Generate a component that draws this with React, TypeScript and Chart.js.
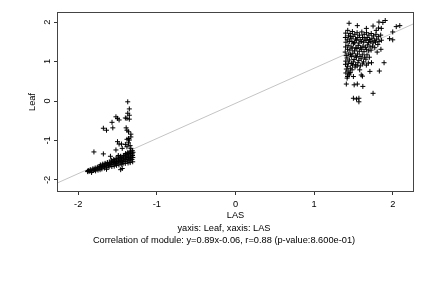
import { useEffect, useRef } from "react";
import { Chart, registerables } from "chart.js";

Chart.register(...registerables);

// ---- data ----
const xTicks = [-2, -1, 0, 1, 2];
const yTicks = [-2, -1, 0, 1, 2];
const xRange = [-2.257, 2.258];
const yRange = [-2.28, 2.23];
const slope = 0.89;
const intercept = -0.06;
const xLabel = "LAS";
const yLabel = "Leaf";
const captionLines = [
  "yaxis: Leaf, xaxis: LAS",
  "Correlation of module: y=0.89x-0.06, r=0.88 (p-value:8.600e-01)",
];

// lower-left cluster [LAS, Leaf]
const lowCluster: [number, number][] = [
  [-1.37, -0.02], [-1.35, -0.2], [-1.37, -0.31], [-1.35, -0.36], [-1.4, -0.43], [-1.35, -0.46],
  [-1.38, -0.44], [-1.52, -0.4], [-1.5, -0.44], [-1.48, -0.48], [-1.57, -0.54], [-1.56, -0.68],
  [-1.68, -0.69], [-1.64, -0.74], [-1.39, -0.68], [-1.38, -0.74], [-1.36, -0.78], [-1.33, -0.84],
  [-1.36, -0.95], [-1.35, -0.99], [-1.38, -0.97], [-1.33, -0.91], [-1.5, -1.03], [-1.48, -1.09],
  [-1.45, -1.09], [-1.4, -1.1], [-1.36, -1.06], [-1.34, -1.13], [-1.52, -1.24], [-1.8, -1.29],
  [-1.68, -1.34], [-1.59, -1.4], [-1.49, -1.38], [-1.44, -1.2], [-1.38, -1.16], [-1.33, -1.2],
  [-1.46, -1.74], [-1.44, -1.71], [-1.64, -1.73], [-1.83, -1.81], [-1.88, -1.78],
  [-1.877, -1.79], [-1.872, -1.76], [-1.853, -1.78], [-1.846, -1.74],
  [-1.826, -1.77], [-1.814, -1.72], [-1.808, -1.75],
  [-1.793, -1.74], [-1.784, -1.7], [-1.779, -1.77],
  [-1.764, -1.72], [-1.753, -1.68], [-1.748, -1.75],
  [-1.736, -1.7], [-1.727, -1.66], [-1.718, -1.62], [-1.722, -1.74],
  [-1.705, -1.68], [-1.694, -1.64], [-1.688, -1.6], [-1.699, -1.72],
  [-1.674, -1.66], [-1.663, -1.62], [-1.658, -1.58], [-1.667, -1.7],
  [-1.644, -1.64], [-1.633, -1.6], [-1.628, -1.56], [-1.636, -1.69],
  [-1.615, -1.63], [-1.604, -1.59], [-1.598, -1.55], [-1.607, -1.67],
  [-1.585, -1.61], [-1.574, -1.57], [-1.569, -1.53], [-1.578, -1.5], [-1.572, -1.66],
  [-1.556, -1.6], [-1.545, -1.56], [-1.539, -1.52], [-1.548, -1.48], [-1.542, -1.65],
  [-1.525, -1.58], [-1.514, -1.54], [-1.509, -1.5], [-1.518, -1.46], [-1.512, -1.63],
  [-1.496, -1.57], [-1.485, -1.53], [-1.479, -1.49], [-1.488, -1.45], [-1.482, -1.62], [-1.491, -1.42],
  [-1.465, -1.55], [-1.454, -1.51], [-1.449, -1.47], [-1.458, -1.43], [-1.452, -1.6], [-1.461, -1.4],
  [-1.436, -1.54], [-1.425, -1.5], [-1.419, -1.46], [-1.428, -1.42], [-1.422, -1.38], [-1.431, -1.59],
  [-1.405, -1.53], [-1.394, -1.48], [-1.389, -1.44], [-1.398, -1.4], [-1.392, -1.36], [-1.401, -1.58], [-1.396, -1.33],
  [-1.376, -1.52], [-1.365, -1.47], [-1.359, -1.43], [-1.368, -1.39], [-1.362, -1.35], [-1.371, -1.31], [-1.366, -1.57],
  [-1.345, -1.5], [-1.334, -1.45], [-1.329, -1.41], [-1.338, -1.37], [-1.332, -1.33], [-1.341, -1.29], [-1.336, -1.27], [-1.339, -1.56],
  [-1.316, -1.48], [-1.305, -1.43], [-1.309, -1.38], [-1.312, -1.34], [-1.303, -1.3], [-1.311, -1.26], [-1.307, -1.54],
];

// upper-right cluster [LAS, Leaf]
const highCluster: [number, number][] = [
  [1.445, 1.97], [1.55, 1.91], [1.665, 1.84], [1.75, 1.9], [1.825, 2.0], [1.875, 1.99], [1.905, 2.04],
  [1.82, 1.85], [1.855, 1.84], [1.79, 1.79], [2.045, 1.885], [2.09, 1.91], [2.0, 1.75], [2.0, 1.55],
  [1.96, 1.58], [1.85, 1.31], [1.89, 0.97], [1.83, 0.76], [1.75, 0.195], [1.41, 0.43], [1.51, 0.41],
  [1.55, 0.43], [1.62, 0.37], [1.5, 0.07], [1.54, 0.05], [1.57, 0.07], [1.57, -0.02], [1.425, 0.62],
  [1.445, 0.66], [1.46, 0.72], [1.42, 0.58], [1.5, 0.62], [1.615, 0.63], [1.6, 0.66], [1.58, 0.79],
  [1.71, 0.75], [1.69, 0.96], [1.665, 0.91], [1.73, 0.97],
  [1.402, 1.72], [1.398, 1.61], [1.405, 1.49], [1.401, 1.37], [1.396, 1.24], [1.408, 1.15], [1.403, 1.01], [1.399, 0.93], [1.41, 0.81], [1.404, 0.71],
  [1.428, 1.79], [1.437, 1.65], [1.422, 1.55], [1.433, 1.41], [1.426, 1.31], [1.441, 1.19], [1.419, 1.09], [1.436, 0.96], [1.424, 0.88], [1.432, 0.76], [1.445, 0.69],
  [1.458, 1.71], [1.468, 1.59], [1.452, 1.51], [1.471, 1.37], [1.455, 1.29], [1.463, 1.17], [1.449, 1.04], [1.474, 0.95], [1.461, 0.83], [1.466, 1.63],
  [1.487, 1.76], [1.496, 1.64], [1.481, 1.51], [1.502, 1.45], [1.485, 1.34], [1.493, 1.21], [1.478, 1.13], [1.499, 0.99], [1.488, 0.91], [1.483, 0.79],
  [1.518, 1.69], [1.527, 1.57], [1.512, 1.48], [1.531, 1.35], [1.515, 1.27], [1.524, 1.14], [1.509, 1.05], [1.528, 0.92], [1.521, 0.86],
  [1.547, 1.73], [1.556, 1.61], [1.541, 1.54], [1.562, 1.41], [1.545, 1.33], [1.553, 1.19], [1.539, 1.11], [1.558, 0.97], [1.549, 0.89],
  [1.577, 1.67], [1.586, 1.55], [1.571, 1.47], [1.592, 1.35], [1.575, 1.26], [1.583, 1.13], [1.569, 1.03], [1.588, 0.89],
  [1.607, 1.75], [1.616, 1.61], [1.601, 1.51], [1.622, 1.39], [1.605, 1.31], [1.613, 1.17], [1.599, 1.07], [1.618, 0.94],
  [1.637, 1.69], [1.646, 1.57], [1.631, 1.49], [1.652, 1.36], [1.635, 1.25], [1.643, 1.11], [1.629, 0.99],
  [1.667, 1.73], [1.676, 1.61], [1.661, 1.53], [1.682, 1.42], [1.665, 1.31], [1.673, 1.17], [1.659, 1.06],
  [1.697, 1.67], [1.706, 1.56], [1.691, 1.48], [1.712, 1.37], [1.695, 1.27], [1.703, 1.11],
  [1.727, 1.71], [1.736, 1.59], [1.721, 1.51], [1.742, 1.39], [1.725, 1.29],
  [1.757, 1.65], [1.766, 1.54], [1.751, 1.47], [1.772, 1.35],
  [1.787, 1.69], [1.796, 1.57], [1.781, 1.49], [1.802, 1.24],
  [1.817, 1.63], [1.826, 1.51], [1.811, 1.43],
  [1.847, 1.67], [1.856, 1.54],
];

// ---- style ----
const FONT = "'Liberation Sans', Arial, Helvetica, sans-serif";
const FONT_SIZE = 9.25;

const framePlugin = {
  id: "frameAndCaption",
  afterDraw(chart: any) {
    const { ctx, chartArea: a } = chart;
    ctx.save();
    ctx.strokeStyle = "#444";
    ctx.lineWidth = 1;
    ctx.strokeRect(a.left - 0.5, a.top - 0.5, a.right - a.left + 1, a.bottom - a.top + 1);
    ctx.fillStyle = "#000";
    ctx.font = `${FONT_SIZE}px ${FONT}`;
    ctx.textAlign = "center";
    ctx.textBaseline = "middle";
    ctx.fillText(captionLines[0], 224, 228.5);
    ctx.fillText(captionLines[1], 224, 240.5);
    ctx.restore();
  },
};

export default function App() {
  const ref = useRef<HTMLCanvasElement>(null);

  useEffect(() => {
    if (!ref.current) return;
    const toPts = (arr: [number, number][]) => arr.map(([x, y]) => ({ x, y }));
    const fitLine = xRange.map((x) => ({ x, y: slope * x + intercept }));
    const chart = new Chart(ref.current, {
      type: "scatter",
      data: {
        datasets: [
          {
            data: fitLine,
            showLine: true,
            borderColor: "#c4c4c4",
            borderWidth: 1,
            pointRadius: 0,
            order: 2,
          },
          {
            data: toPts(lowCluster),
            pointStyle: "cross",
            pointRadius: 2.5,
            borderColor: "#000",
            borderWidth: 1,
            order: 1,
          },
          {
            data: toPts(highCluster),
            pointStyle: "cross",
            pointRadius: 2.5,
            borderColor: "#000",
            borderWidth: 1,
            order: 1,
          },
        ],
      },
      options: {
        animation: false,
        responsive: false,
        devicePixelRatio: 1,
        layout: { padding: { left: 0, right: 19, top: 13, bottom: 0 } },
        plugins: { legend: { display: false }, tooltip: { enabled: false } },
        scales: {
          x: {
            type: "linear",
            min: xRange[0],
            max: xRange[1],
            afterBuildTicks: (s: any) => {
              s.ticks = xTicks.map((v) => ({ value: v }));
            },
            afterFit: (s: any) => {
              s.height = 97;
            },
            ticks: {
              font: { family: FONT, size: FONT_SIZE },
              color: "#000",
              padding: 4,
              maxRotation: 0,
              callback: (v: any) => String(v),
            },
            grid: { drawOnChartArea: false, drawTicks: true, tickLength: 4, color: "#333" },
            border: { display: false },
            title: {
              display: true,
              text: xLabel,
              font: { family: FONT, size: FONT_SIZE },
              color: "#000",
              padding: { top: 0, bottom: 67 },
            },
          },
          y: {
            type: "linear",
            min: yRange[0],
            max: yRange[1],
            afterBuildTicks: (s: any) => {
              s.ticks = yTicks.map((v) => ({ value: v }));
            },
            afterFit: (s: any) => {
              s.width = 58;
            },
            ticks: {
              font: { family: FONT, size: FONT_SIZE },
              color: "#000",
              padding: 2,
              minRotation: 90,
              maxRotation: 90,
              crossAlign: "center",
              callback: (v: any) => String(v),
            },
            grid: { drawOnChartArea: false, drawTicks: true, tickLength: 4, color: "#333" },
            border: { display: false },
            title: {
              display: true,
              text: yLabel,
              font: { family: FONT, size: FONT_SIZE },
              color: "#000",
              padding: { top: 27, bottom: 0 },
            },
          },
        },
      },
      plugins: [framePlugin],
    } as any);
    return () => chart.destroy();
  }, []);

  return (
    <div style={{ position: "fixed", left: 0, top: 0, width: 432, height: 288, background: "#fff" }}>
      <canvas ref={ref} width={432} height={288} style={{ display: "block" }} />
    </div>
  );
}
